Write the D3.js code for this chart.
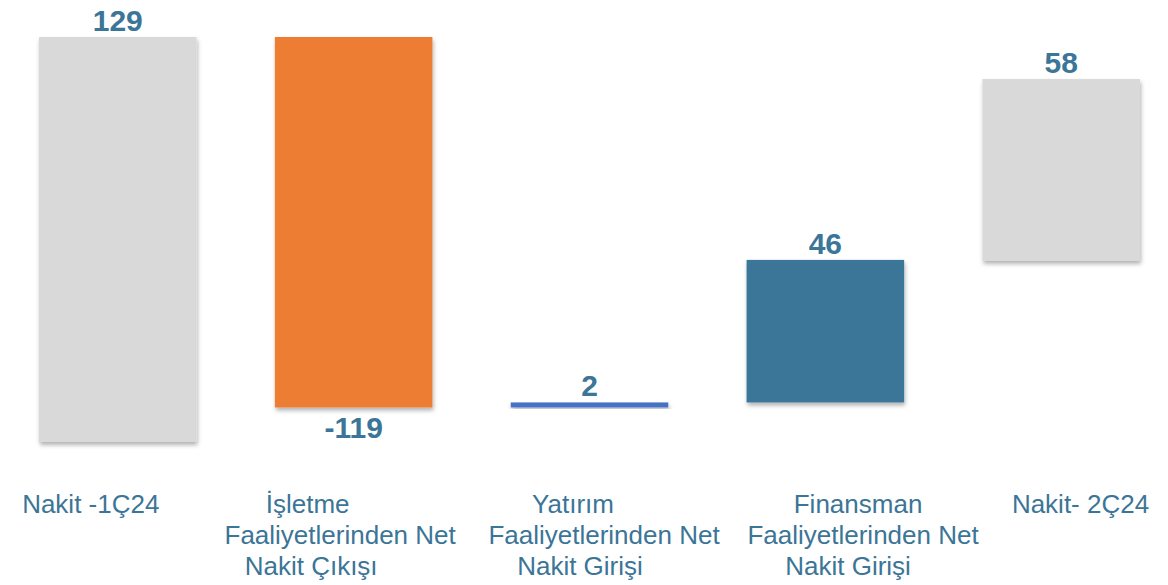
<!DOCTYPE html>
<html>
<head>
<meta charset="utf-8">
<script src="https://cdn.jsdelivr.net/npm/d3@7"></script>
<style>
  html, body { margin: 0; padding: 0; background: #ffffff; }
  svg { display: block; }
</style>
</head>
<body>
<div id="chart"></div>
<script>
// ---- data ----
const categoryLines = [
  ["Nakit -1Ç24"],
  ["İşletme", "Faaliyetlerinden Net", "Nakit Çıkışı"],
  ["Yatırım", "Faaliyetlerinden Net", "Nakit Girişi"],
  ["Finansman", "Faaliyetlerinden Net", "Nakit Girişi"],
  ["Nakit- 2Ç24"]
];
const categories = categoryLines.map(l => l.join(" "));
const labelValues = [129, -119, 2, 46, 58];
const barLow  = [0, 11.0, 11.0, 12.6, 57.7];
const barHigh = [129, 129, 12.6, 58.0, 115.6];

// ---- layout / style ----
const W = 1168, H = 585;
const colors = ["#d9d9d9", "#ed7d31", "#4472c4", "#3b7597", "#d9d9d9"];
const textColor = "#3b7597";
const font = "'Liberation Sans', Arial, sans-serif";
// horizontal nudges of each category label line (relative to band centre)
const lineNudge = [
  [-27],
  [-46, -13.5, -42.5],
  [-16.5, 14.5, -9.5],
  [32.7, 37.7, 22.7],
  [19.3]
];

const svg = d3.select("#chart").append("svg")
  .attr("width", W).attr("height", H);

const defs = svg.append("defs");
const f = defs.append("filter").attr("id", "shadow")
  .attr("x", "-10%").attr("y", "-10%").attr("width", "130%").attr("height", "140%");
f.append("feDropShadow")
  .attr("dx", 1).attr("dy", 3).attr("stdDeviation", 2)
  .attr("flood-color", "#000").attr("flood-opacity", 0.3);

const x = d3.scaleBand().domain(categories).range([39, 1140])
  .paddingInner(0.332).paddingOuter(0);
const y = d3.scaleLinear().domain([0, 129]).range([442, 37]);

const data = categories.map((c, i) => ({
  c, i, v: labelValues[i], lo: barLow[i], hi: barHigh[i],
  end: labelValues[i] >= 0 ? barHigh[i] : barLow[i]
}));

// connectors
const conn = data.slice(0, -1).map((d, i) => ({ from: d, to: data[i + 1] }));
svg.append("g").selectAll("line").data(conn).join("line")
  .attr("x1", d => x(d.from.c) + x.bandwidth())
  .attr("x2", d => x(d.to.c))
  .attr("y1", d => y(d.from.end))
  .attr("y2", d => y(d.from.end))
  .attr("stroke", "#d9d9d9")
  .attr("stroke-width", 2)
  .attr("filter", "url(#shadow)");

// bars
svg.append("g").selectAll("rect").data(data).join("rect")
  .attr("x", d => x(d.c))
  .attr("width", x.bandwidth())
  .attr("y", d => y(d.hi))
  .attr("height", d => y(d.lo) - y(d.hi))
  .attr("fill", (d, i) => colors[i])
  .attr("filter", "url(#shadow)");

// value labels
svg.append("g").selectAll("text").data(data).join("text")
  .attr("x", d => x(d.c) + x.bandwidth() / 2)
  .attr("y", d => d.v >= 0 ? y(d.hi) - 6 : y(d.lo) + 31)
  .attr("text-anchor", "middle")
  .attr("font-family", font)
  .attr("font-weight", "bold")
  .attr("font-size", "30px")
  .attr("fill", textColor)
  .text(d => d.v);

// category labels
const cg = svg.append("g");
data.forEach((d, i) => {
  const cx = x(d.c) + x.bandwidth() / 2;
  categoryLines[i].forEach((line, j) => {
    cg.append("text")
      .attr("x", cx + lineNudge[i][j])
      .attr("y", 513 + j * 31)
      .attr("text-anchor", "middle")
      .attr("font-family", font)
      .attr("font-size", "26px")
      .attr("fill", textColor)
      .text(line);
  });
});
</script>
</body>
</html>
